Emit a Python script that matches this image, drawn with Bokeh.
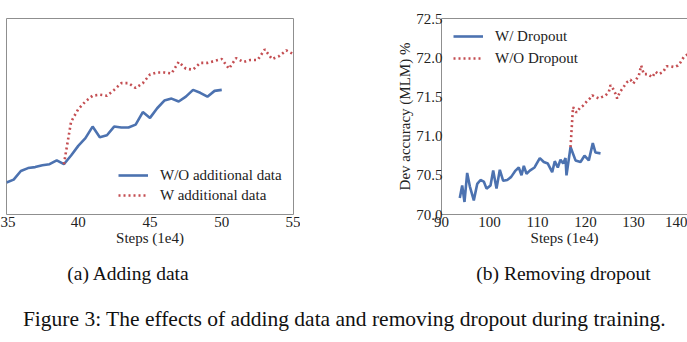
from bokeh.plotting import figure
from bokeh.layouts import column, row
from bokeh.models import (Range1d, LinearAxis, Legend, LegendItem, Label,
                          FixedTicker, NumeralTickFormatter)
from bokeh.embed import file_html
from bokeh.resources import INLINE

# ---------------- data: (a) Adding data ----------------
steps_a_wo = [35.0, 35.5, 36.0, 36.5, 37.0, 37.5, 38.0, 38.5, 39.0, 39.5, 40.0,
              40.5, 41.0, 41.5, 42.0, 42.5, 43.0, 43.5, 44.0, 44.5, 45.0, 45.5,
              46.0, 46.5, 47.0, 47.5, 48.0, 48.5, 49.0, 49.5, 50.0]
acc_a_wo = [68.30, 68.33, 68.42, 68.45, 68.46, 68.48, 68.49, 68.53, 68.49, 68.58,
            68.68, 68.76, 68.88, 68.77, 68.79, 68.88, 68.87, 68.87, 68.90, 69.03,
            68.97, 69.07, 69.15, 69.17, 69.14, 69.19, 69.26, 69.23, 69.19, 69.25,
            69.26]
steps_a_w = [39.0, 39.5, 40.0, 40.5, 41.0, 41.5, 42.0, 42.5, 43.0, 43.5, 44.0,
             44.5, 45.0, 45.5, 46.0, 46.5, 47.0, 47.5, 48.0, 48.5, 49.0, 49.5,
             50.0, 50.5, 51.0, 51.5, 52.0, 52.5, 53.0, 53.5, 54.0, 54.5, 55.0]
acc_a_w = [68.49, 68.93, 69.06, 69.14, 69.20, 69.21, 69.20, 69.26, 69.33, 69.33,
           69.28, 69.33, 69.42, 69.44, 69.44, 69.43, 69.55, 69.48, 69.47, 69.54,
           69.54, 69.56, 69.58, 69.48, 69.59, 69.55, 69.57, 69.57, 69.68, 69.58,
           69.61, 69.67, 69.63]
labels_a = ["W/O additional data", "W additional data"]
xticks_a = [35, 40, 45, 50, 55]

# ---------------- data: (b) Removing dropout ----------------
steps_b_drop = [93.81, 94.31, 94.79, 95.35, 95.90, 96.73, 97.44, 98.13, 98.81,
                99.38, 100.21, 100.77, 101.46, 102.15, 102.85, 103.69, 104.52,
                105.42, 106.10, 106.67, 107.15, 107.71, 108.40, 109.38, 110.48,
                111.31, 112.15, 113.06, 113.60, 114.23, 114.79, 115.35, 115.83,
                116.04, 116.88, 117.92, 118.96, 119.79, 120.69, 121.52, 122.08,
                123.13]
acc_b_drop = [70.21, 70.37, 70.16, 70.53, 70.36, 70.18, 70.39, 70.44, 70.42,
              70.33, 70.37, 70.56, 70.33, 70.57, 70.43, 70.44, 70.48, 70.56,
              70.60, 70.50, 70.62, 70.52, 70.56, 70.60, 70.72, 70.67, 70.65,
              70.54, 70.68, 70.60, 70.70, 70.65, 70.72, 70.50, 70.86, 70.69,
              70.67, 70.75, 70.69, 70.91, 70.79, 70.78]
steps_b_nodrop = [116.88, 117.40, 118.13, 118.96, 119.52, 120.35, 120.90, 121.40,
                  122.08, 122.77, 123.48, 124.17, 124.85, 125.21, 125.77, 126.25,
                  126.60, 127.15, 127.85, 128.69, 129.38, 129.94, 130.42, 131.10,
                  131.60, 132.15, 132.98, 133.90, 134.58, 135.27, 136.19, 136.88,
                  137.71, 138.54, 139.23, 139.79, 140.48, 141.19, 141.90, 142.60]
acc_b_nodrop = [70.86, 71.37, 71.30, 71.37, 71.39, 71.45, 71.48, 71.52, 71.50,
                71.48, 71.50, 71.52, 71.56, 71.65, 71.60, 71.54, 71.48, 71.56,
                71.62, 71.69, 71.72, 71.67, 71.71, 71.77, 71.90, 71.79, 71.79,
                71.75, 71.82, 71.79, 71.82, 71.89, 71.89, 71.88, 71.90, 71.94,
                72.01, 72.04, 72.09, 72.06]
labels_b = ["W/ Dropout", "W/O Dropout"]
xticks_b = [90, 100, 110, 120, 130, 140]
yticks_b = [70.0, 70.5, 71.0, 71.5, 72.0, 72.5]

x_label = "Steps (1e4)"
y_label_b = "Dev accuracy (MLM) %"
captions = ["(a) Adding data", "(b) Removing dropout"]
figure_caption = "Figure 3: The effects of adding data and removing dropout during training."

# ---------------- styles ----------------
FONT = "Liberation Serif"
BLUE = "#4c72b0"
RED = "#c44e52"
SPINE = "#8f8f8f"
FS = "15px"
TOP_H = 256


def style_axis(ax):
    ax.major_tick_line_color = None
    ax.minor_tick_line_color = None
    ax.major_tick_out = 0
    ax.major_label_text_font = FONT
    ax.major_label_text_font_size = FS
    ax.major_label_text_color = "#222222"
    ax.axis_label_text_font = FONT
    ax.axis_label_text_font_size = FS
    ax.axis_label_text_font_style = "normal"
    ax.axis_label_text_color = "#222222"
    ax.major_label_standoff = 2
    ax.axis_label_standoff = 0


def style_legend(lg):
    lg.label_text_font = FONT
    lg.label_text_font_size = FS
    lg.label_text_color = "#222222"
    lg.border_line_color = None
    lg.background_fill_alpha = 0
    lg.padding = 0
    lg.margin = 0
    lg.glyph_width = 30
    lg.glyph_height = 20
    lg.label_height = 20
    lg.label_standoff = 12


# ---------------- (a) ----------------
pa = figure(width=300, height=TOP_H, output_backend="svg", toolbar_location=None,
            x_range=Range1d(35, 55), y_range=Range1d(67.969, 70.0),
            min_border_left=6, min_border_right=7, min_border_top=16,
            min_border_bottom=41)
pa.grid.visible = False
pa.outline_line_color = SPINE
pa.outline_line_width = 1
pa.yaxis.visible = False
style_axis(pa.xaxis[0])
pa.xaxis.axis_line_color = None
pa.xaxis.ticker = FixedTicker(ticks=xticks_a)
pa.xaxis.axis_label = x_label
ra1 = pa.line(steps_a_wo, acc_a_wo, line_color=BLUE, line_width=2.6)
ra2 = pa.line(steps_a_w, acc_a_w, line_color=RED, line_width=2.6, line_dash="2 3")
lga = Legend(items=[LegendItem(label=labels_a[0], renderers=[ra1]),
                    LegendItem(label=labels_a[1], renderers=[ra2])],
             location=(112, 9), spacing=0)
style_legend(lga)
pa.add_layout(lga)

# ---------------- (b) ----------------
pb = figure(width=387, height=TOP_H, output_backend="svg", toolbar_location=None,
            x_range=Range1d(90, 141.25), y_range=Range1d(70.0, 72.5),
            min_border_left=141, min_border_right=0, min_border_top=18,
            min_border_bottom=42)
pb.grid.visible = False
pb.outline_line_color = None
style_axis(pb.xaxis[0])
style_axis(pb.yaxis[0])
pb.xaxis.axis_line_color = SPINE
pb.yaxis.axis_line_color = SPINE
pb.xaxis.ticker = FixedTicker(ticks=xticks_b)
pb.yaxis.ticker = FixedTicker(ticks=yticks_b)
pb.yaxis.major_label_standoff = -1
pb.yaxis.axis_label_standoff = 0
pb.xaxis.axis_label = x_label
pb.yaxis.axis_label = y_label_b
pb.yaxis.formatter = NumeralTickFormatter(format="0.0")
top = LinearAxis(major_tick_line_color=None, minor_tick_line_color=None,
                 major_label_text_font_size="0px", axis_line_color=SPINE,
                 ticker=FixedTicker(ticks=[]))
pb.add_layout(top, "above")
rb1 = pb.line(steps_b_drop, acc_b_drop, line_color=BLUE, line_width=2.6)
rb2 = pb.line(steps_b_nodrop, acc_b_nodrop, line_color=RED, line_width=2.6,
              line_dash="2 3")
lgb = Legend(items=[LegendItem(label=labels_b[0], renderers=[rb1]),
                    LegendItem(label=labels_b[1], renderers=[rb2])],
             location=(12, 146), spacing=2)
style_legend(lgb)
pb.add_layout(lgb)

# ---------------- captions ----------------
CAP_H = 342 - TOP_H
pc = figure(width=687, height=CAP_H, output_backend="svg", toolbar_location=None,
            x_range=Range1d(0, 687), y_range=Range1d(0, CAP_H),
            min_border=0)
pc.axis.visible = False
pc.grid.visible = False
pc.outline_line_color = None
for txt, cx in zip(captions, [128, 563]):
    pc.add_layout(Label(x=cx, y=342 - 273, x_units="screen", y_units="screen",
                        text=txt, text_font=FONT, text_font_size="19.5px",
                        text_align="center", text_baseline="middle",
                        text_color="#111111"))
pc.add_layout(Label(x=344, y=342 - 318, x_units="screen", y_units="screen",
                    text=figure_caption, text_font=FONT, text_font_size="21.5px",
                    text_align="center", text_baseline="middle",
                    text_color="#111111"))

layout = column(row(pa, pb, spacing=0), pc, spacing=0)
open("out.html", "w").write(file_html(layout, INLINE))
